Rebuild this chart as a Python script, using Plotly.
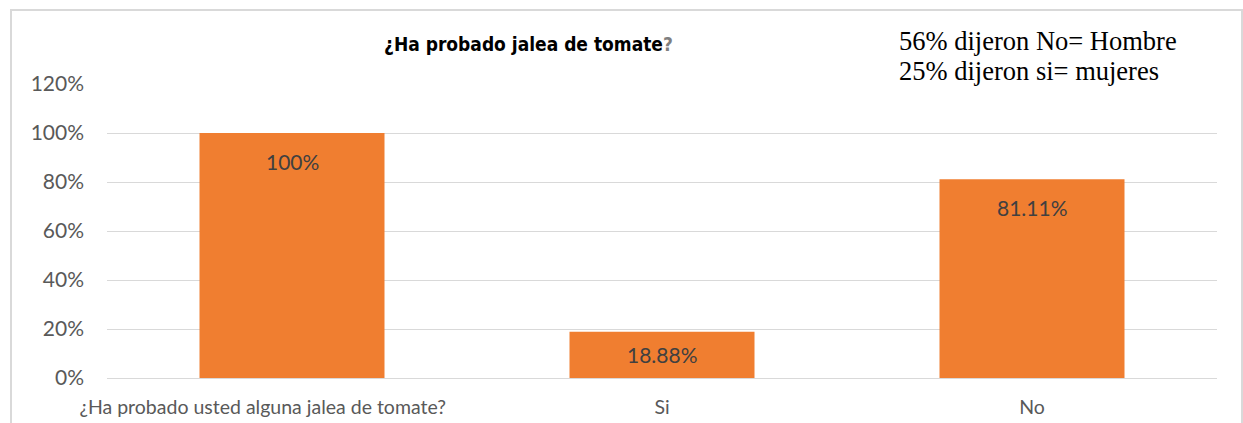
import plotly.graph_objects as go

categories = ["¿Ha probado usted alguna jalea de tomate?", "Si", "No"]
values = [1.00, 0.1888, 0.8111]
labels = ["100%", "18.88%", "81.11%"]
y_ticks = [0, 0.2, 0.4, 0.6, 0.8, 1.0, 1.2]
y_tick_text = ["0%", "20%", "40%", "60%", "80%", "100%", "120%"]
note_lines = ["56% dijeron No= Hombre", "25% dijeron si= mujeres"]

W, H = 1243, 423
L, R, T, B = 107, 26, 84, 45
pw, ph = W - L - R, H - T - B
YMAX = 1.2

def px_x(px):
    return (px - L) / pw

def px_y(py):
    return (H - B - py) / ph

FONT = "Lato, Open Sans, Liberation Sans, sans-serif"

fig = go.Figure()
fig.add_trace(go.Bar(
    x=categories, y=values, width=0.5,
    marker=dict(color="#F07E30", line=dict(width=0)),
    hoverinfo="skip",
))

for c, v, t in zip(categories, values, labels):
    bar_px = v / YMAX * ph
    off = min(28, bar_px / 2)
    fig.add_annotation(x=c, y=v, text=t, showarrow=False, yanchor="middle", yshift=-off,
                       font=dict(family=FONT, size=21, color="#404040"))

fig.add_annotation(xref="paper", yref="paper", x=px_x(528), y=px_y(44),
                   text="¿Ha probado jalea de tomate<span style='color:#7F7F7F'>?</span>",
                   showarrow=False, xanchor="center", yanchor="middle",
                   font=dict(family="DejaVu Sans Condensed, Liberation Sans Narrow, Liberation Sans, sans-serif",
                             size=19, color="#000000", weight="bold"))

for i, line in enumerate(note_lines):
    fig.add_annotation(xref="paper", yref="paper", x=px_x(897), y=px_y(41 + 29.5 * i),
                       text=line, showarrow=False, xanchor="left", yanchor="middle",
                       font=dict(family="Liberation Serif, Times New Roman, serif", size=26.5, color="#000000"))

# outer chart border (partially cropped in reference)
fig.add_shape(type="rect", xref="paper", yref="paper",
              x0=px_x(11), x1=px_x(1242), y0=px_y(460), y1=px_y(10),
              line=dict(color="#D9D9D9", width=2), fillcolor="rgba(0,0,0,0)", layer="below")

# first category label sits left of its bar centre in the original (Excel) layout
tick_display = [categories[0] + "\u2002" * 6] + categories[1:]

fig.update_layout(
    width=W, height=H,
    margin=dict(l=L, r=R, t=T, b=B, pad=0),
    paper_bgcolor="white", plot_bgcolor="white",
    showlegend=False, bargap=0.5,
    font=dict(family=FONT, size=21, color="#595959"),
    xaxis=dict(showgrid=False, showline=False, ticks="", automargin=False,
               tickmode="array", tickvals=categories, ticktext=tick_display,
               tickfont=dict(family=FONT, size=19.5, color="#595959"),
               ticklabelstandoff=15),
    yaxis=dict(range=[0, YMAX], tickvals=y_ticks, ticktext=y_tick_text, showgrid=True, automargin=False,
               gridcolor="#D9D9D9", gridwidth=1, zeroline=True, zerolinecolor="#D9D9D9",
               zerolinewidth=1, showline=False, ticks="", ticklabelstandoff=22,
               tickfont=dict(family=FONT, size=21, color="#595959")),
)

fig.write_html("out.html", post_script="document.body.style.margin='0';",
               config={"displayModeBar": False})
